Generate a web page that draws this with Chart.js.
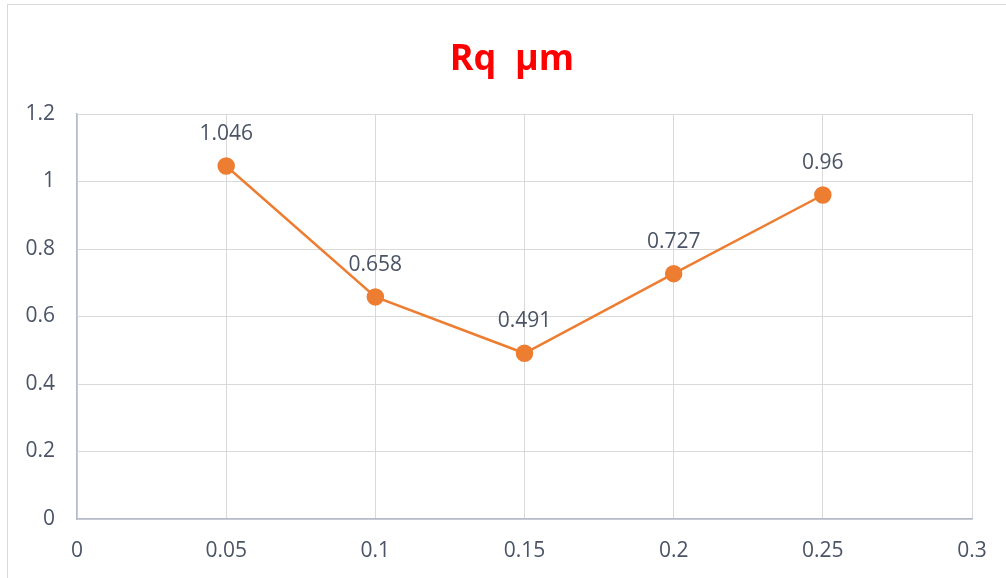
<!DOCTYPE html>
<html>
<head>
<meta charset="utf-8">
<script src="https://cdn.jsdelivr.net/npm/chart.js@4/dist/chart.umd.min.js"></script>
<style>
  html, body { margin: 0; padding: 0; background: #ffffff; }
  #wrap { width: 1006px; height: 578px; position: relative; }
</style>
</head>
<body>
<div id="wrap"><canvas id="c" width="1006" height="578"></canvas></div>
<script>
// Feed rate (x) and surface roughness Rq in µm (y)
const feedRates = [0.05, 0.1, 0.15, 0.2, 0.25];
const rqValues = [1.046, 0.658, 0.491, 0.727, 0.96];
const rqLabels = ['1.046', '0.658', '0.491', '0.727', '0.96'];
const titleText = 'Rq  µm';

const textColor = '#4a5466';
const gridColor = '#d9d9d9';
const axisColor = '#b4bccb';
const lineColor = '#ED7D31';

// Outer frame of the chart box and the centred title
const framePlugin = {
  id: 'frame',
  beforeDraw(chart) {
    const ctx = chart.ctx;
    ctx.save();
    ctx.strokeStyle = '#d9d9d9';
    ctx.lineWidth = 1;
    ctx.strokeRect(7.5, 4.5, 1010, 590);
    ctx.font = 'bold 36px "Open Sans"';
    ctx.fillStyle = '#ff0000';
    ctx.textAlign = 'center';
    ctx.textBaseline = 'middle';
    ctx.fillText(titleText, 512, 60);
    ctx.restore();
  }
};

// Value labels above each point
const valueLabelPlugin = {
  id: 'valueLabels',
  afterDatasetsDraw(chart) {
    const ctx = chart.ctx;
    const meta = chart.getDatasetMeta(0);
    ctx.save();
    ctx.font = '21px "Open Sans"';
    ctx.fillStyle = textColor;
    ctx.textAlign = 'center';
    ctx.textBaseline = 'middle';
    meta.data.forEach((pt, i) => {
      ctx.fillText(rqLabels[i], pt.x, pt.y - 32);
    });
    ctx.restore();
  }
};

new Chart(document.getElementById('c'), {
  type: 'scatter',
  data: {
    datasets: [{
      data: feedRates.map((x, i) => ({ x: x, y: rqValues[i] })),
      showLine: true,
      borderColor: lineColor,
      backgroundColor: lineColor,
      borderWidth: 2.5,
      pointRadius: 7.5,
      pointHoverRadius: 7.5,
      pointBackgroundColor: lineColor,
      pointBorderColor: lineColor,
      tension: 0
    }]
  },
  options: {
    responsive: false,
    animation: false,
    layout: { padding: { left: 0, right: 34, top: 114, bottom: 0 } },
    plugins: {
      legend: { display: false },
      tooltip: { enabled: false },
      title: { display: false }
    },
    scales: {
      x: {
        type: 'linear',
        min: 0,
        max: 0.3,
        ticks: {
          stepSize: 0.05,
          color: textColor,
          font: { family: '"Open Sans"', size: 21 },
          padding: 19,
          callback: v => String(Math.round(v * 100) / 100)
        },
        grid: { color: gridColor, drawTicks: false, lineWidth: 1 },
        border: { color: axisColor, width: 1.5 },
        afterFit(scale) { scale.height = 59; }
      },
      y: {
        min: 0,
        max: 1.2,
        ticks: {
          stepSize: 0.2,
          color: textColor,
          font: { family: '"Open Sans"', size: 21 },
          padding: 22,
          callback: v => String(Math.round(v * 10) / 10)
        },
        grid: { color: gridColor, drawTicks: false, lineWidth: 1 },
        border: { color: axisColor, width: 1.5 },
        afterFit(scale) { scale.width = 77; }
      }
    }
  },
  plugins: [framePlugin, valueLabelPlugin]
});
</script>
</body>
</html>
